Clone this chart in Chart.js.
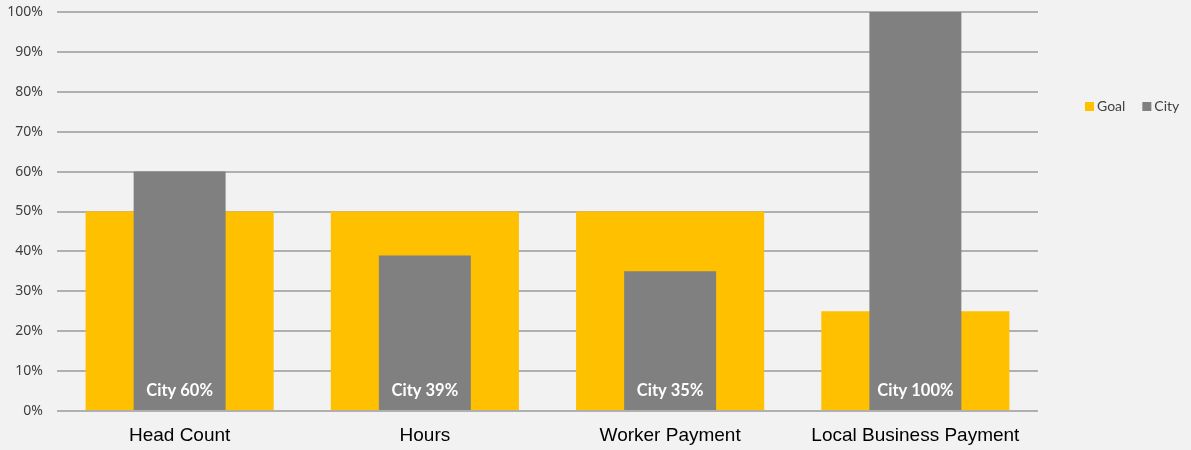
<!DOCTYPE html>
<html><head><meta charset="utf-8">
<script src="https://cdn.jsdelivr.net/npm/chart.js@4.4.0/dist/chart.umd.min.js"></script>
<style>html,body{margin:0;padding:0;background:#f2f2f2;}#wrap{width:1191px;height:450px;}</style>
</head><body><div id="wrap"><canvas id="c" width="1191" height="450"></canvas></div>
<script>
const categories = ["Head Count", "Hours", "Worker Payment", "Local Business Payment"];
const goalValues = [50, 50, 50, 25];
const cityValues = [60, 39, 35, 100];
const cityLabels = ["City 60%", "City 39%", "City 35%", "City 100%"];
const yTicks = [0, 10, 20, 30, 40, 50, 60, 70, 80, 90, 100];

const bg = {
  id: 'bg',
  beforeDraw(chart) {
    const c = chart.ctx; c.save(); c.fillStyle = '#f2f2f2';
    c.fillRect(0, 0, chart.width, chart.height); c.restore();
  }
};
const labelsPlugin = {
  id: 'cityLabels',
  afterDatasetsDraw(chart) {
    const c = chart.ctx;
    const meta = chart.getDatasetMeta(1);
    c.save();
    c.fillStyle = '#ffffff';
    c.font = 'bold 16.5px Lato, "Open Sans", sans-serif';
    c.textAlign = 'center'; c.textBaseline = 'middle';
    meta.data.forEach((bar, i) => {
      c.fillText(cityLabels[i], bar.x, bar.base - 19);
    });
    c.restore();
  }
};
const legendPlugin = {
  id: 'customLegend',
  afterDraw(chart) {
    const c = chart.ctx;
    c.save();
    c.font = '14px Lato, "Open Sans", sans-serif';
    c.textBaseline = 'middle'; c.textAlign = 'left';
    let x = 1085; const y = 106;
    chart.data.datasets.forEach(ds => {
      c.fillStyle = ds.backgroundColor;
      c.fillRect(x, y - 4, 9, 9);
      c.fillStyle = '#404040';
      c.fillText(ds.label, x + 12, y);
      x += 12 + c.measureText(ds.label).width + 17;
    });
    c.restore();
  }
};

new Chart(document.getElementById('c'), {
  type: 'bar',
  data: {
    labels: categories,
    datasets: [
      { label: 'Goal', data: goalValues, backgroundColor: '#ffc000', grouped: false,
        categoryPercentage: 1, barPercentage: 0.767, order: 2 },
      { label: 'City', data: cityValues, backgroundColor: '#808080', grouped: false,
        categoryPercentage: 1, barPercentage: 0.375, order: 1 }
    ]
  },
  options: {
    responsive: false, animation: false,
    layout: { padding: { left: 0, right: 153, top: 12, bottom: 0 } },
    plugins: { legend: { display: false }, tooltip: { enabled: false } },
    scales: {
      x: {
        grid: { display: false }, border: { display: false },
        afterFit(axis) { axis.height = 39; axis.paddingLeft = 0; axis.paddingRight = 0; },
        ticks: { color: '#000000', font: { size: 19, family: '"Liberation Sans", Arial, sans-serif' }, padding: 5 }
      },
      y: {
        min: 0, max: 100,
        afterFit(axis) { axis.width = 57; axis.paddingTop = 0; axis.paddingBottom = 0; },
        afterBuildTicks(axis) { axis.ticks = yTicks.map(v => ({ value: v })); },
        grid: { color: '#b0b0b0', lineWidth: 2, drawTicks: false },
        border: { display: false },
        ticks: { color: '#404040', padding: 14, font: { size: 14, family: '"Noto Sans", sans-serif' },
          callback: v => v + '%' }
      }
    }
  },
  plugins: [bg, labelsPlugin, legendPlugin]
});
</script></body></html>
